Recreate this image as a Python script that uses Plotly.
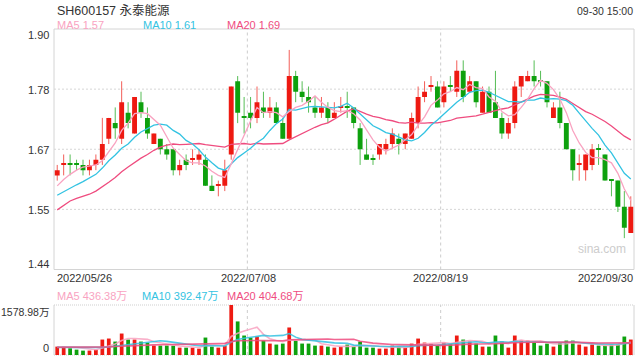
import plotly.graph_objects as go

# ---------------- data ----------------
opens  = [1.62,1.64,1.64,1.64,1.64,1.63,1.64,1.65,1.69,1.72,
          1.69,1.74,1.70,1.76,1.73,1.68,1.69,1.67,1.67,1.63,
          1.65,1.65,1.65,1.65,1.60,1.60,1.60,1.66,1.80,1.73,
          1.74,1.73,1.75,1.74,1.75,1.72,1.69,1.81,1.78,1.77,
          1.75,1.74,1.75,1.73,1.75,1.75,1.75,1.71,1.66,1.65,
          1.66,1.67,1.68,1.69,1.68,1.69,1.72,1.77,1.79,1.79,
          1.76,1.79,1.78,1.82,1.78,1.80,1.74,1.78,1.76,1.73,
          1.70,1.72,1.79,1.80,1.81,1.80,1.80,1.73,1.75,1.72,
          1.67,1.64,1.63,1.64,1.67,1.66,1.61,1.61,1.56,1.51]
highs  = [1.64,1.66,1.66,1.65,1.65,1.65,1.66,1.73,1.73,1.75,
          1.80,1.76,1.77,1.78,1.75,1.70,1.69,1.68,1.67,1.65,
          1.66,1.67,1.67,1.66,1.62,1.61,1.65,1.79,1.81,1.77,
          1.77,1.79,1.78,1.77,1.76,1.73,1.86,1.82,1.80,1.79,
          1.77,1.77,1.76,1.76,1.77,1.78,1.75,1.72,1.69,1.66,
          1.68,1.69,1.71,1.70,1.70,1.74,1.79,1.80,1.81,1.80,
          1.80,1.81,1.84,1.84,1.81,1.80,1.79,1.79,1.82,1.74,
          1.73,1.80,1.81,1.82,1.84,1.82,1.80,1.76,1.78,1.72,
          1.67,1.66,1.66,1.68,1.68,1.66,1.61,1.61,1.59,1.58]
lows   = [1.61,1.62,1.62,1.63,1.62,1.62,1.63,1.64,1.68,1.69,
          1.68,1.71,1.70,1.73,1.69,1.68,1.66,1.65,1.62,1.62,
          1.63,1.64,1.64,1.60,1.59,1.58,1.59,1.65,1.72,1.70,
          1.71,1.72,1.73,1.73,1.72,1.69,1.69,1.76,1.76,1.74,
          1.73,1.73,1.72,1.73,1.74,1.73,1.71,1.64,1.65,1.64,
          1.65,1.66,1.67,1.66,1.67,1.69,1.71,1.76,1.78,1.75,
          1.75,1.78,1.77,1.76,1.78,1.75,1.74,1.74,1.73,1.69,
          1.69,1.71,1.77,1.80,1.79,1.79,1.75,1.73,1.71,1.67,
          1.61,1.61,1.61,1.63,1.64,1.61,1.58,1.55,1.50,1.51]
closes = [1.63,1.64,1.64,1.64,1.63,1.64,1.65,1.68,1.73,1.71,
          1.76,1.72,1.77,1.74,1.70,1.70,1.67,1.66,1.63,1.64,
          1.64,1.65,1.66,1.60,1.59,1.60,1.63,1.79,1.74,1.73,
          1.73,1.76,1.74,1.75,1.72,1.69,1.81,1.78,1.77,1.76,
          1.74,1.75,1.73,1.74,1.75,1.75,1.72,1.67,1.65,1.65,
          1.68,1.68,1.70,1.68,1.70,1.73,1.77,1.78,1.79,1.75,
          1.79,1.79,1.82,1.77,1.80,1.76,1.78,1.74,1.73,1.70,
          1.72,1.79,1.81,1.81,1.80,1.80,1.76,1.75,1.72,1.67,
          1.63,1.64,1.66,1.67,1.67,1.61,1.61,1.56,1.52,1.56]
# volume in 万 shares
volumes = [265,262,212,170,138,140,168,488,520,424,
           678,487,488,424,392,297,296,297,295,233,
           232,233,201,551,265,233,297,1578.98,1060,615,
           551,583,456,360,329,360,869,456,361,360,
           297,296,265,233,265,329,265,424,233,232,
           201,202,297,265,233,360,519,392,360,297,
           392,360,615,488,424,360,265,264,615,424,
           233,615,456,455,424,297,360,265,392,456,
           455,329,265,329,297,297,329,328,583,488]
# moving-average values before a full window is available
ma5_prior  = [1.600,1.612,1.622,1.630]
ma10_prior = [1.582,1.589,1.596,1.602,1.608,1.615,1.622,1.634,1.648]
ma20_prior = [1.554,1.563,1.571,1.576,1.580,1.584,1.590,1.598,1.607,1.616,
              1.627,1.636,1.645,1.653,1.660,1.668,1.674,1.678,1.680]
vma5_prior  = [250,255,250,240]
vma10_prior = [240,240,235,232,228,225,228,240,255]
vma20_prior = [245,245,244,243,242,242,244,250,258,268,280,290,300,308,315,320,325,328,331]

y_ticks = [1.44, 1.555, 1.67, 1.785, 1.90]
y_tick_text = ["1.44", "1.55", "1.67", "1.78", "1.90"]
x_tick_idx = [0, 30, 60, 89]
x_tick_text = ["2022/05/26", "2022/07/08", "2022/08/19", "2022/09/30"]
title_text = "SH600157 永泰能源"
time_text = "09-30 15:00"
ma_legend = ["MA5 1.57", "MA10 1.61", "MA20 1.69"]
vol_legend = ["MA5 436.38万", "MA10 392.47万", "MA20 404.68万"]
vol_max_text = "1578.98万"

# ---------------- styles ----------------
RED, GREEN = "#ee1a12", "#0ea10e"
RED_W, GREEN_W = "rgba(238,26,18,0.7)", "rgba(14,161,14,0.7)"
C5, C10, C20 = "#f9a3c1", "#33c3e2", "#ef4c7f"
TXT = "#333333"
FONT = "Arial, 'Liberation Sans', 'Noto Sans CJK SC', sans-serif"

W, H = 640, 360
ML, MR, MT, MB = 54, 6, 29, 5
def px(x):
    return (x - ML) / (W - ML - MR)
def py(y):
    return (H - MB - y) / (H - MT - MB)

MAIN_DOM = [py(269.5), 1.0]
VOL_DOM = [0.0, py(305)]

n = len(closes)
idx = list(range(n))

def moving(vals, k, prior):
    out = []
    for i in range(len(vals)):
        if i < k - 1:
            out.append(prior[i])
        else:
            out.append(sum(vals[i - k + 1:i + 1]) / k)
    return out

# colour: red when up; for flat candles compare with previous close
up = []
for i in range(n):
    if closes[i] > opens[i]:
        up.append(True)
    elif closes[i] < opens[i]:
        up.append(False)
    else:
        up.append(i > 0 and closes[i] > closes[i - 1])

fig = go.Figure()

# wicks
for flag, col in ((True, RED_W), (False, GREEN_W)):
    xs, ys = [], []
    for i in range(n):
        if up[i] == flag:
            xs += [i, i, None]
            ys += [lows[i], highs[i], None]
    fig.add_trace(go.Scatter(x=xs, y=ys, mode="lines", line=dict(color=col, width=1),
                             hoverinfo="skip", showlegend=False, xaxis="x", yaxis="y"))

# bodies
base = [min(o, c) for o, c in zip(opens, closes)]
height = [max(abs(c - o), 0.0022) for o, c in zip(opens, closes)]
fig.add_trace(go.Bar(x=idx, y=height, base=base, width=0.76,
                     marker=dict(color=[RED if u else GREEN for u in up], line=dict(width=0)),
                     hoverinfo="skip", showlegend=False, xaxis="x", yaxis="y"))

# price MAs
for k, prior, col in ((20, ma20_prior, C20), (10, ma10_prior, C10), (5, ma5_prior, C5)):
    fig.add_trace(go.Scatter(x=idx, y=moving(closes, k, prior), mode="lines",
                             line=dict(color=col, width=1.3), hoverinfo="skip",
                             showlegend=False, xaxis="x", yaxis="y"))

# volume bars
fig.add_trace(go.Bar(x=idx, y=volumes, width=0.58,
                     marker=dict(color=[RED if u else GREEN for u in up], line=dict(width=0)),
                     hoverinfo="skip", showlegend=False, xaxis="x2", yaxis="y2"))
for k, prior, col in ((5, vma5_prior, C5), (10, vma10_prior, C10), (20, vma20_prior, C20)):
    fig.add_trace(go.Scatter(x=idx, y=moving(volumes, k, prior), mode="lines",
                             line=dict(color=col, width=1.6), opacity=0.85, hoverinfo="skip",
                             showlegend=False, xaxis="x2", yaxis="y2"))

shapes = []
GRID = "#d6d6d6"
# main panel border
shapes.append(dict(type="rect", xref="paper", yref="paper", x0=0, x1=1,
                   y0=MAIN_DOM[0], y1=MAIN_DOM[1], line=dict(color="#d4d4d4", width=1), layer="below"))
for v in y_ticks[1:-1]:
    shapes.append(dict(type="line", xref="paper", yref="y", x0=0, x1=1, y0=v, y1=v,
                       line=dict(color=GRID, width=1, dash="2px,2px"), layer="below"))
for xi in x_tick_idx[1:3]:
    shapes.append(dict(type="line", xref="x", yref="paper", x0=xi - 0.5, x1=xi - 0.5,
                       y0=MAIN_DOM[0], y1=MAIN_DOM[1],
                       line=dict(color="#cccccc", width=1, dash="3px,3px"), layer="below"))
    shapes.append(dict(type="line", xref="x", yref="paper", x0=xi - 0.5, x1=xi - 0.5,
                       y0=VOL_DOM[0], y1=VOL_DOM[1],
                       line=dict(color="#cccccc", width=1, dash="3px,3px"), layer="below"))
# volume panel frame
for yy in VOL_DOM:
    shapes.append(dict(type="line", xref="paper", yref="paper", x0=0, x1=1, y0=yy, y1=yy,
                       line=dict(color="#cfcfcf", width=1, dash="1px,1px"), layer="below"))
for xx in (0, 1):
    shapes.append(dict(type="line", xref="paper", yref="paper", x0=xx, x1=xx,
                       y0=VOL_DOM[0], y1=VOL_DOM[1], line=dict(color="#d4d4d4", width=1), layer="below"))

ann = []
def text(x, y, s, xa="left", ya="middle", size=11, color=TXT):
    ann.append(dict(xref="paper", yref="paper", x=px(x), y=py(y), text=s, showarrow=False,
                    xanchor=xa, yanchor=ya, font=dict(family=FONT, size=size, color=color)))

text(55, 10.5, title_text, size=12.5)
text(635, 11.5, time_text, xa="right", size=10.5)
for s, x, col in zip(ma_legend, (55, 140.5, 225.3), (C5, C10, C20)):
    text(x, 24.8, s, color=col)
# y labels
ypos = [264, 209.5, 149.5, 89.7, 34.7]
for s, y in zip(y_tick_text, ypos):
    text(51, y, s, xa="right")
# x labels
text(55, 278.3, x_tick_text[0])
text(248, 278.3, x_tick_text[1], xa="center")
text(441, 278.3, x_tick_text[2], xa="center")
text(635, 278.3, x_tick_text[3], xa="right")
for s, x, col in zip(vol_legend, (55, 140, 225), (C5, C10, C20)):
    text(x, 296, s, color=col)
text(51, 311.5, vol_max_text, xa="right", size=10.5)
text(51, 348, "0", xa="right")
text(602, 249, "sina.com", xa="center", size=12, color="#cccccc")

ax = dict(range=[-0.5, n - 0.5], showticklabels=False, showgrid=False, zeroline=False,
          showline=False, ticks="", fixedrange=True)
fig.update_layout(
    width=W, height=H, margin=dict(l=ML, r=MR, t=MT, b=MB),
    paper_bgcolor="white", plot_bgcolor="white", barmode="overlay", showlegend=False,
    xaxis=dict(ax, anchor="y", domain=[0, 1]),
    xaxis2=dict(ax, anchor="y2", domain=[0, 1], matches="x"),
    yaxis=dict(range=[1.44, 1.90], domain=MAIN_DOM, showticklabels=False, showgrid=False,
               zeroline=False, ticks=""),
    yaxis2=dict(range=[0, 1578.98], domain=VOL_DOM, showticklabels=False, showgrid=False,
                zeroline=False, ticks=""),
    shapes=shapes, annotations=ann, font=dict(family=FONT),
)
fig.write_html("out.html")
